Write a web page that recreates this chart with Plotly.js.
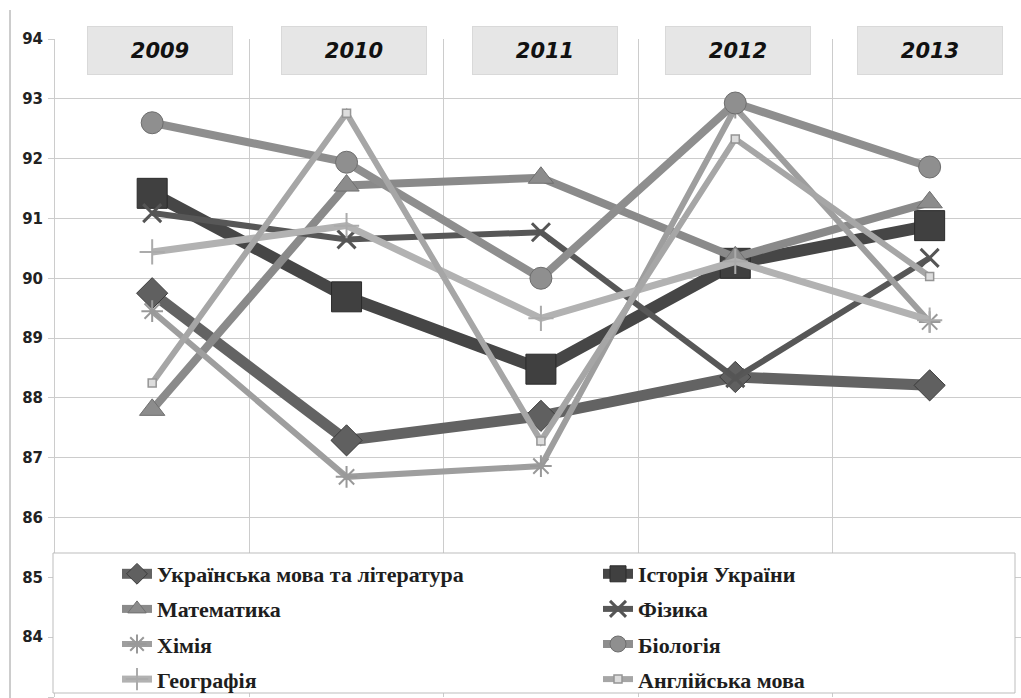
<!DOCTYPE html>
<html><head><meta charset="utf-8">
<script src="https://cdn.plot.ly/plotly-3.0.1.min.js"></script>
<style>html,body{margin:0;padding:0;background:#fff;overflow:hidden}</style>
</head><body><div id="chart" style="width:1021px;height:698px"></div>
<script>
const years = ['2009', '2010', '2011', '2012', '2013'];
const yTicks = [83, 84, 85, 86, 87, 88, 89, 90, 91, 92, 93, 94];

const ukrLit = [89.75, 87.29, 87.70, 88.35, 88.21];
const historyUa = [91.42, 89.69, 88.48, 90.25, 90.88];
const mathematics = [87.80, 91.55, 91.68, 90.35, 91.27];
const physics = [91.09, 90.65, 90.77, 88.33, 90.34];
const chemistry = [89.45, 86.68, 86.86, 92.85, 89.27];
const biology = [92.60, 91.94, 90.00, 92.93, 91.86];
const geography = [90.44, 90.88, 89.33, 90.28, 89.30];
const english = [88.25, 92.76, 87.28, 92.33, 90.03];

const seriesNames = ['Українська мова та література', 'Історія України', 'Математика', 'Фізика',
  'Хімія', 'Біологія', 'Географія', 'Англійська мова'];
const seriesValues = [ukrLit, historyUa, mathematics, physics, chemistry, biology, geography, english];

const styles = [
  {line: {color: '#636363', width: 11}, marker: {symbol: 'diamond', size: 24, color: '#606060', line: {color: '#3c3c3c', width: 1}}},
  {line: {color: '#464646', width: 12}, marker: {symbol: 'square', size: 30, color: '#404040', line: {color: '#2a2a2a', width: 1}}},
  {line: {color: '#8a8a8a', width: 8}, marker: {symbol: 'triangle-up', size: 22, color: '#8c8c8c', line: {color: '#707070', width: 1}}},
  {line: {color: '#575757', width: 6}, marker: {symbol: 'x-thin-open', size: 18, color: '#555555', line: {width: 3}}},
  {line: {color: '#9e9e9e', width: 6}, marker: {symbol: 'asterisk-open', size: 18, color: '#999999', line: {width: 2}}},
  {line: {color: '#8e8e8e', width: 8}, marker: {symbol: 'circle', size: 22, color: '#8f8f8f', line: {color: '#6e6e6e', width: 1}}},
  {line: {color: '#b2b2b2', width: 7}, marker: {symbol: 'cross-thin-open', size: 18, color: '#ababab', line: {width: 2}}},
  {line: {color: '#a6a6a6', width: 6}, marker: {symbol: 'square', size: 8, color: '#dddddd', line: {color: '#959595', width: 1.5}}}
];

const traces = seriesNames.map((name, i) => ({
  type: 'scatter', mode: 'lines+markers',
  x: years, y: seriesValues[i], name: '<b>' + name + '</b>',
  line: styles[i].line, marker: styles[i].marker,
  legend: (i % 2 === 0) ? 'legend' : 'legend2',
  legendgroup: 'g' + i,
  hoverinfo: 'skip'
}));

const W = 1021, H = 698, L = 55, R = 0, T = 39, B = 1;
const pw = W - L - R, ph = H - T - B;
const px = v => (v - L) / pw;
const py = v => (H - B - v) / ph;

const legendFont = {family: 'Liberation Serif', size: 22, color: '#1e1e1e'};
const boxShift = [8, 7, 4, 3, 0];

const annotations = years.map((y, i) => ({
  x: i, xref: 'x', y: py(50), yref: 'paper', yanchor: 'middle', xanchor: 'center', xshift: boxShift[i],
  text: '<b><i>' + y + '</i></b>', showarrow: false, width: 144, height: 47, borderpad: 0,
  bgcolor: '#e6e6e6', bordercolor: '#d9d9d9', borderwidth: 1,
  font: {family: 'DejaVu Sans', size: 21, color: '#111111'}
}));

const layout = {
  width: W, height: H,
  margin: {l: L, r: R, t: T, b: B, pad: 0, autoexpand: false},
  paper_bgcolor: '#ffffff', plot_bgcolor: '#ffffff',
  showlegend: true,
  xaxis: {
    type: 'category', range: [-0.5, 4.47], tickson: 'boundaries',
    showgrid: true, gridcolor: '#cccccc', gridwidth: 1,
    showticklabels: false, ticks: '', zeroline: false, showline: false, fixedrange: true
  },
  yaxis: {
    range: [83, 94], tickvals: yTicks, ticktext: yTicks.map(String),
    showgrid: true, gridcolor: '#cccccc', gridwidth: 1,
    ticks: 'outside', ticklen: 6, tickcolor: '#cccccc', ticklabelstandoff: 2,
    showline: true, linecolor: '#cccccc', linewidth: 1, zeroline: false,
    tickfont: {family: 'DejaVu Sans', size: 15, color: '#222222', weight: 'bold'},
    fixedrange: true
  },
  legend: {
    x: px(117), y: py(553), xanchor: 'left', yanchor: 'top', orientation: 'v',
    traceorder: 'grouped', tracegroupgap: 3.5, bgcolor: 'rgba(0,0,0,0)', borderwidth: 0,
    font: legendFont
  },
  legend2: {
    x: px(598), y: py(553), xanchor: 'left', yanchor: 'top', orientation: 'v',
    traceorder: 'grouped', tracegroupgap: 3.5, bgcolor: 'rgba(0,0,0,0)', borderwidth: 0,
    font: legendFont
  },
  shapes: [
    {type: 'rect', xref: 'paper', yref: 'paper', x0: px(53), x1: px(1015), y0: py(693), y1: py(553),
      fillcolor: '#ffffff', line: {color: '#bdbdbd', width: 1}, layer: 'above'},
    {type: 'line', xref: 'paper', yref: 'paper', x0: px(10), x1: px(10), y0: py(698), y1: py(10),
      line: {color: '#9a9a9a', width: 1}, layer: 'above'}
  ],
  annotations: annotations
};

Plotly.newPlot('chart', traces, layout, {displayModeBar: false, staticPlot: true});
</script>
</body></html>
